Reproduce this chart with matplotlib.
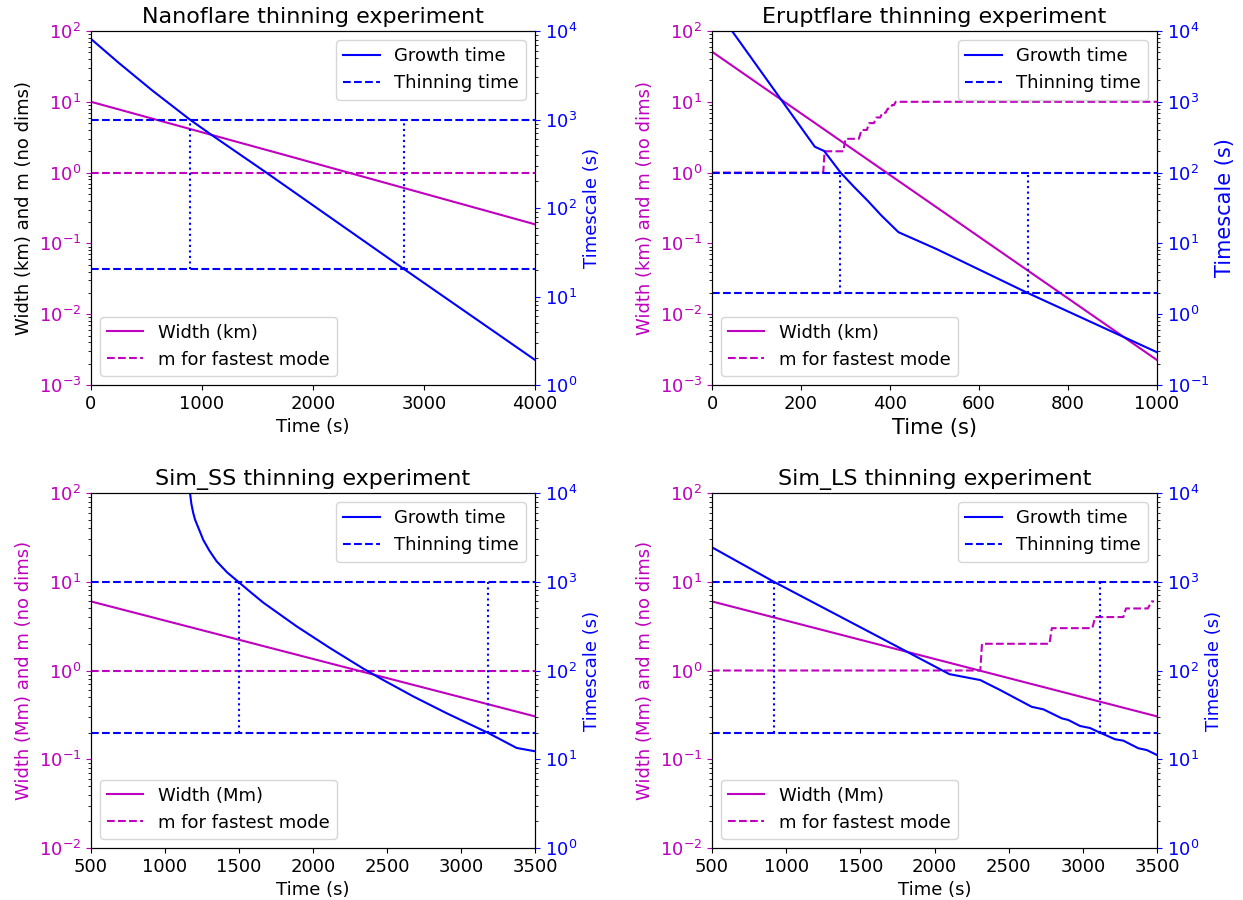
import matplotlib
matplotlib.use("Agg")
import matplotlib.pyplot as plt
from matplotlib.ticker import MultipleLocator

plt.rcParams['font.family'] = ['DejaVu Sans']

# ---------------- Nanoflare ----------------
nano_w_t = [0, 1748, 4000]
nano_width = [10.0, 1.77, 0.186]
nano_m_t = [0, 4000]
nano_m = [1, 1]
nano_g_t = [0, 250, 550, 890, 1087, 1568, 2823, 4000]
nano_growth = [8130, 4365, 2138, 1000, 668, 257, 20.3, 1.92]
nano_thin = [20.3, 1000]
nano_cross = [890, 2823]
nano_xticks = [0, 1000, 2000, 3000, 4000]

# ---------------- Eruptflare ----------------
erup_w_t = [0, 1000]
erup_width = [51.0, 0.00225]
erup_m_t = [0, 250, 253, 295, 300, 330, 336, 348, 353, 364, 369, 378, 383,
            390, 395, 400, 405, 409, 413, 1000]
erup_m = [1, 1, 2, 2, 3, 3, 4, 4, 5, 5, 6, 6, 7, 7, 8, 8, 9, 9, 10, 10]
erup_g_t = [45, 231, 252, 289, 320, 350, 380, 419, 505, 709, 1000]
erup_growth = [10000, 232, 202, 100, 62, 40, 25, 14.4, 8.3, 2.0, 0.29]
erup_thin = [2.0, 100]
erup_cross = [287, 709]
erup_xticks = [0, 200, 400, 600, 800, 1000]

# ---------------- Sim_SS ----------------
ss_w_t = [500, 3500]
ss_width = [6.0, 0.304]
ss_m_t = [500, 3500]
ss_m = [1, 1]
ss_g_t = [1169, 1178, 1190, 1203, 1259, 1300, 1349, 1420, 1495, 1580, 1664,
          1890, 2115, 2340, 2475, 2678, 2903, 3178, 3376, 3500]
ss_growth = [10000, 7586, 6026, 5012, 2951, 2239, 1698, 1274, 1000, 759, 582,
             314, 179, 105, 78, 51, 33, 20, 13.4, 12.3]
ss_thin = [20, 1000]
ss_cross = [1497, 3180]
ss_xticks = [500, 1000, 1500, 2000, 2500, 3000, 3500]

# ---------------- Sim_LS ----------------
ls_w_t = [500, 3500]
ls_width = [6.0, 0.304]
ls_m_t = [500, 2309, 2320, 2775, 2791, 3064, 3083, 3273, 3291, 3438, 3465, 3480]
ls_m = [1, 1, 2, 2, 3, 3, 4, 4, 5, 5, 6, 6]
ls_g_t = [500, 917, 1793, 2100, 2309, 2442, 2655, 2734, 2858, 2902, 2981,
          3048, 3114, 3217, 3273, 3374, 3431, 3498]
ls_growth = [2443, 1000, 170, 91, 78, 60.3, 39, 36.5, 28.9, 27.7, 23.7,
             22.5, 20, 16.8, 16.2, 13.3, 12.7, 11.2]
ls_thin = [20, 1000]
ls_cross = [917, 3114]
ls_xticks = [500, 1000, 1500, 2000, 2500, 3000, 3500]

panels = [
    dict(title="Nanoflare thinning experiment", unit="km",
         wt=nano_w_t, w=nano_width, mt=nano_m_t, m=nano_m,
         gt=nano_g_t, g=nano_growth, thin=nano_thin, cross=nano_cross,
         xticks=nano_xticks,
         xlim=(0, 4000), ylim=(1e-3, 1e2), y2lim=(1e0, 1e4),
         rect=[91/1243, 1-385/900, 444/1243, 354/900],
         ylab_color='black', big=False),
    dict(title="Eruptflare thinning experiment", unit="km",
         wt=erup_w_t, w=erup_width, mt=erup_m_t, m=erup_m,
         gt=erup_g_t, g=erup_growth, thin=erup_thin, cross=erup_cross,
         xticks=erup_xticks,
         xlim=(0, 1000), ylim=(1e-3, 1e2), y2lim=(1e-1, 1e4),
         rect=[712/1243, 1-385/900, 445/1243, 354/900],
         ylab_color='m', big=True),
    dict(title="Sim_SS thinning experiment", unit="Mm",
         wt=ss_w_t, w=ss_width, mt=ss_m_t, m=ss_m,
         gt=ss_g_t, g=ss_growth, thin=ss_thin, cross=ss_cross,
         xticks=ss_xticks,
         xlim=(500, 3500), ylim=(1e-2, 1e2), y2lim=(1e0, 1e4),
         rect=[91/1243, 1-848/900, 444/1243, 355/900],
         ylab_color='m', big=False),
    dict(title="Sim_LS thinning experiment", unit="Mm",
         wt=ls_w_t, w=ls_width, mt=ls_m_t, m=ls_m,
         gt=ls_g_t, g=ls_growth, thin=ls_thin, cross=ls_cross,
         xticks=ls_xticks,
         xlim=(500, 3500), ylim=(1e-2, 1e2), y2lim=(1e0, 1e4),
         rect=[712/1243, 1-848/900, 445/1243, 355/900],
         ylab_color='m', big=False),
]

fig = plt.figure(figsize=(12.43, 9.0), dpi=100)
FS = 13

for p in panels:
    ax = fig.add_axes(p['rect'])
    ax.plot(p['wt'], p['w'], color='m', lw=1.5, label=f"Width ({p['unit']})")
    ax.plot(p['mt'], p['m'], color='m', ls='--', lw=1.5, label="m for fastest mode")
    ax.set_yscale('log')
    ax.set_xlim(*p['xlim'])
    ax.set_ylim(*p['ylim'])
    ax.set_xticks(p['xticks'])
    ax.set_title(p['title'], fontsize=16)
    ax.set_xlabel("Time (s)", fontsize=15 if p['big'] else FS)
    ax.set_ylabel(f"Width ({p['unit']}) and m (no dims)", fontsize=FS,
                  color=p['ylab_color'])
    ax.tick_params(axis='y', which='major', colors='m', labelsize=FS)
    ax.tick_params(axis='x', labelsize=FS)
    ax.legend(loc='lower left', fontsize=FS)

    ax2 = ax.twinx()
    ax2.plot(p['gt'], p['g'], color='b', lw=1.5, label="Growth time")
    x0, x1 = p['xlim']
    for i, th in enumerate(p['thin']):
        ax2.plot([x0, x1], [th, th], color='b', ls='--', lw=1.5,
                 label="Thinning time" if i == 0 else None)
    for tc in p['cross']:
        ax2.plot([tc, tc], [p['thin'][0], p['thin'][1]], color='b', ls=':', lw=1.5)
    ax2.set_yscale('log')
    ax2.set_ylim(*p['y2lim'])
    ax2.set_xlim(*p['xlim'])
    ax2.set_ylabel("Timescale (s)", color='b', fontsize=15 if p['big'] else FS)
    ax2.tick_params(axis='y', which='major', colors='b', labelsize=FS)
    ax2.legend(loc='upper right', fontsize=FS)

fig.savefig("out.png", dpi=100)
